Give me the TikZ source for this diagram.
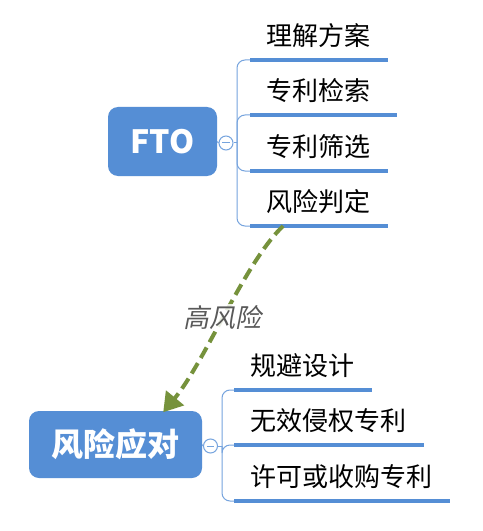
\documentclass[tikz,border=0pt]{standalone}
\usepackage{fontspec}
\setmainfont{Noto Sans CJK SC}
\newfontfamily\slantfont[FakeSlant=0.2]{Noto Sans CJK SC}
\usetikzlibrary{arrows.meta,calc}
\definecolor{topicBlue}{RGB}{85,142,213}
\definecolor{lineBlue}{RGB}{118,164,222}
\definecolor{riskGreen}{RGB}{118,146,60}
\definecolor{labelGray}{RGB}{89,89,89}
\tikzset{
  central/.style={fill=topicBlue, rounded corners=7.5pt, text=white, font=\fontsize{24}{28}\selectfont\bfseries, align=center, inner sep=0pt},
  topic/.style={anchor=south west, inner xsep=12.5pt, inner ysep=0pt, minimum height=36pt, font=\fontsize{19.5}{23}\selectfont, align=left},
  fold/.style={circle, draw=lineBlue, fill=white, line width=0.75pt, minimum size=10.5pt, inner sep=0pt,
    path picture={\draw[lineBlue, line width=0.75pt] ($(path picture bounding box.west)+(2.6pt,0)$) -- ($(path picture bounding box.east)+(-2.6pt,0)$);}},
  branch/.style={draw=lineBlue, line width=0.75pt, rounded corners=6pt},
  uline/.style={draw=topicBlue, line width=3pt},
  risk/.style={-{Triangle[length=14pt,width=17pt]}, draw=riskGreen, line width=3pt, dash pattern=on 9pt off 4.5pt},
  note/.style={fill=white, fill opacity=0.85, text opacity=1, text=labelGray, font=\fontsize{19.5}{23}\slantfont, inner sep=1pt}
}

\begin{document}
\begin{tikzpicture}[x=0.75pt,y=-0.75pt]
  \path[use as bounding box, fill=white] (0,0) rectangle (482,531);

  \node[central, minimum width=81.75pt, minimum height=51.75pt] (fto) at (162.5,141.5) {FTO};
  \node[fold] (ftofold) at (226,143) {};
  \coordinate (ftojoint) at (237,143);
  \node[topic] (t1) at (250,60) {理解方案};
  \node[topic, text width=84.75pt] (t2) at (250,115) {专利检索};
  \node[topic] (t3) at (250,171) {专利筛选};
  \node[topic] (t4) at (250,226) {风险判定};

  \node[central, minimum width=129.75pt, minimum height=50.25pt] (risk) at (115.5,444.5) {风险应对};
  \node[fold] (riskfold) at (210.5,446) {};
  \coordinate (riskjoint) at (222,446);
  \node[topic] (r1) at (234,390) {规避设计};
  \node[topic] (r2) at (234,445) {无效侵权专利};
  \node[topic] (r3) at (234,501) {许可或收购专利};

  \draw[branch] (fto.east) -- (ftofold.west);
  \draw[branch] (ftofold.east) -- (ftojoint);
  \foreach \t in {t1,t2,t3,t4}
    \draw[branch] (ftojoint) |- (\t.south west);
  \foreach \t in {t1,t2,t3,t4}
    \draw[uline] (\t.south west) -- (\t.south east);

  \draw[branch] (risk.east) -- (riskfold.west);
  \draw[branch] (riskfold.east) -- (riskjoint);
  \foreach \t in {r1,r2,r3}
    \draw[branch] (riskjoint) |- (\t.south west);
  \foreach \t in {r1,r2,r3}
    \draw[uline] (\t.south west) -- (\t.south east);

  \draw[risk] ($(t4.south west)!0.24!(t4.south east)$) .. controls +(-38,36) and +(42,-51) ..
    ($(risk.north west)!0.775!(risk.north east)+(0,1.5)$) node[note, pos=0.52] {高风险};
\end{tikzpicture}
\end{document}
